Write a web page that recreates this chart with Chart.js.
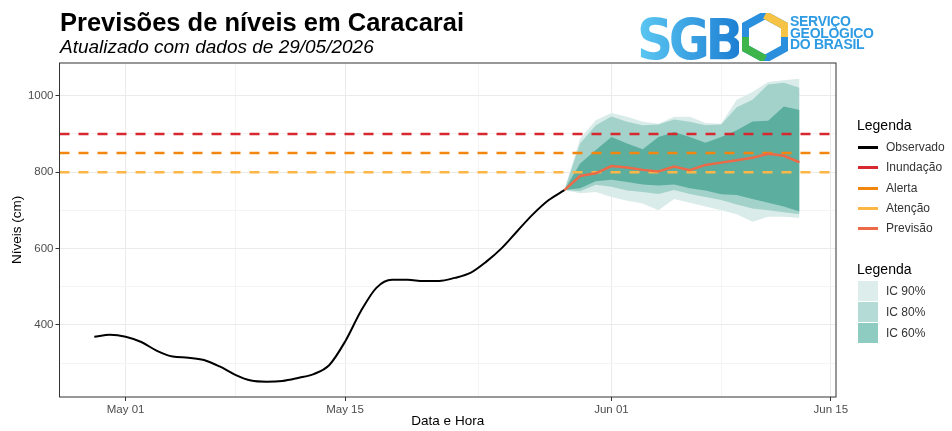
<!DOCTYPE html>
<html>
<head>
<meta charset="utf-8">
<script src="https://cdn.jsdelivr.net/npm/chart.js@4"></script>
<style>
  body { margin: 0; background: #fff; font-family: "Liberation Sans", Arial, sans-serif; }
  #wrap { position: relative; width: 952px; height: 431px; }
  #c { position: absolute; left: 0; top: 0; }
  .title { position: absolute; left: 60px; top: 8px; font-size: 25.5px; font-weight: bold; color: #000; }
  .sub { position: absolute; left: 60px; top: 36px; font-size: 19px; font-style: italic; color: #000; }
  .leg { position: absolute; left: 857px; font-size: 12px; color: #333; }
  .legtitle { position: absolute; left: 857px; font-size: 14px; color: #000; }
  .ln { position: absolute; left: 858px; width: 20px; height: 3px; }
  .sw { position: absolute; left: 858px; width: 20px; height: 20px; }
  .logo { position: absolute; left: 637px; top: 12px; font-family: "DejaVu Sans", sans-serif; font-weight: bold;
          font-size: 57px; line-height: 57px; letter-spacing: -5px; transform: scaleX(0.88); transform-origin: 0 0;
          background: linear-gradient(90deg, #5cc8f2, #1d7fd3); -webkit-background-clip: text; background-clip: text; color: transparent; }
  .logotxt { position: absolute; left: 790px; top: 16px; font-size: 14px; line-height: 11.7px; font-weight: bold; color: #2e9be3; letter-spacing: -0.3px; }
</style>
</head>
<body>
<div id="wrap">
  <canvas id="c" width="952" height="431"></canvas>
  <div class="title">Previsões de níveis em Caracarai</div>
  <div class="sub">Atualizado com dados de 29/05/2026</div>
  <div class="logo">SGB</div>
  <svg style="position:absolute;left:742px;top:13px" width="46" height="48" viewBox="0 0 46 48">
    <polygon points="23,2 43,13 43,35 23,46 3,35 3,13" fill="none" stroke="#2a8fdc" stroke-width="8"/>
    <polyline points="23,2 43,13 43,24" fill="none" stroke="#f6c344" stroke-width="8"/>
    <polyline points="3,24 3,35 23,46" fill="none" stroke="#3db54b" stroke-width="8"/>
  </svg>
  <div class="logotxt">SERVIÇO<br>GEOLÓGICO<br>DO BRASIL</div>
  <div id="legend"></div>
</div>
<script>
// observed levels (cm)
const obsDates = ['04-29','04-30','05-01','05-02','05-03','05-04','05-05','05-06','05-07','05-08',
  '05-09','05-10','05-11','05-12','05-13','05-14','05-15','05-16','05-17','05-18','05-19','05-20',
  '05-21','05-22','05-23','05-24','05-25','05-26','05-27','05-28','05-29'];
const observado = [369, 374, 369, 355, 332, 317, 314, 308, 291, 269, 254, 251, 253, 261, 271, 295,
  356, 435, 497, 518, 518, 515, 515, 523, 536, 565, 601, 646, 690, 727, 753];

// forecast and confidence intervals
const prevDates = ['05-29','05-30','05-31','06-01','06-02','06-03','06-04','06-05','06-06','06-07',
  '06-08','06-09','06-10','06-11','06-12','06-13'];
const previsao = [753, 790, 797, 816, 812, 806, 802, 815, 805, 819, 825, 831, 838, 848, 843, 826];
const ic90Hi = [753, 888, 936, 955, 945, 932, 927, 945, 945, 929, 927, 990, 1010, 1036, 1041, 1045];
const ic80Hi = [753, 875, 923, 946, 932, 923, 925, 938, 932, 923, 925, 970, 990, 1030, 1034, 1021];
const ic60Hi = [753, 823, 858, 892, 875, 860, 892, 905, 892, 877, 892, 910, 933, 935, 972, 963];
const ic60Lo = [753, 758, 776, 780, 774, 768, 765, 768, 758, 752, 742, 740, 730, 720, 710, 697];
const ic80Lo = [753, 750, 767, 762, 752, 748, 743, 753, 743, 735, 727, 715, 705, 700, 695, 690];
const ic90Lo = [753, 745, 748, 735, 725, 718, 700, 730, 720, 710, 700, 690, 670, 683, 683, 680];

// thresholds
const limiares = ['Inundação', 'Alerta', 'Atenção'];
const limiarValores = [900, 850, 800];
const limiarCores = ['#d7282f', '#f2860f', '#fbb646'];

// axes
const xTickDates = ['05-01', '05-15', '06-01', '06-15'];
const xTickLabels = ['May 01', 'May 15', 'Jun 01', 'Jun 15'];
const yTicks = [400, 600, 800, 1000];
const yMinor = [300, 500, 700, 900];

// days since May 01 2026
function dia(md) {
  const [m, d] = md.split('-').map(Number);
  return (Date.UTC(2026, m - 1, d) - Date.UTC(2026, 4, 1)) / 864e5;
}
const xMin = -4.22, xMax = 45.33;
const xMajor = xTickDates.map(dia);
const xMinorPos = [];
for (let i = 0; i < xMajor.length - 1; i++) xMinorPos.push((xMajor[i] + xMajor[i + 1]) / 2);

const pts = (dates, vals) => dates.map((d, i) => ({x: dia(d), y: vals[i]}));

const datasets = [
  {label: 'Observado', data: pts(obsDates, observado), borderColor: '#000', borderWidth: 2,
   pointRadius: 0, cubicInterpolationMode: 'monotone', order: 0},
  {label: 'Previsão', data: pts(prevDates, previsao), borderColor: '#ec6a48', borderWidth: 2.5,
   pointRadius: 0, order: 1}
];
limiares.forEach((l, i) => datasets.push({
  label: l, data: [{x: xMin, y: limiarValores[i]}, {x: xMax, y: limiarValores[i]}],
  borderColor: limiarCores[i], borderWidth: 2.5, borderDash: [10, 9], pointRadius: 0, order: 2
}));
const bands = [[ic60Lo, ic60Hi, '#5cae9f', 3], [ic80Lo, ic80Hi, '#a3d2cb', 4], [ic90Lo, ic90Hi, '#d9ece9', 5]];
bands.forEach(([lo, hi, col, ord]) => {
  datasets.push({data: pts(prevDates, lo), borderWidth: 0, pointRadius: 0, fill: false, order: ord});
  datasets.push({data: pts(prevDates, hi), borderWidth: 0, pointRadius: 0, fill: '-1',
    backgroundColor: col, order: ord});
});

const frame = {
  id: 'frame',
  afterDraw(chart) {
    const a = chart.chartArea, ctx = chart.ctx;
    ctx.save();
    ctx.strokeStyle = '#333';
    ctx.lineWidth = 1;
    ctx.strokeRect(a.left, a.top, a.right - a.left, a.bottom - a.top);
    ctx.restore();
  }
};

const tickFont = {family: '"Liberation Sans", Arial', size: 11.5};

new Chart(document.getElementById('c'), {
  type: 'line',
  data: {datasets},
  plugins: [frame],
  options: {
    responsive: false,
    animation: false,
    devicePixelRatio: 1,
    layout: {padding: {left: 0, top: 63, right: 116, bottom: 0}},
    plugins: {legend: {display: false}, tooltip: {enabled: false}},
    scales: {
      x: {
        type: 'linear', min: xMin, max: xMax,
        afterFit: s => { s.height = 34; },
        afterBuildTicks: s => { s.ticks = xMajor.concat(xMinorPos).sort((a, b) => a - b).map(v => ({value: v})); },
        ticks: {
          autoSkip: false, maxRotation: 0, padding: 2, color: '#4d4d4d', font: tickFont,
          callback: v => { const i = xMajor.indexOf(v); return i >= 0 ? xTickLabels[i] : ''; }
        },
        grid: {
          color: c => xMajor.includes(c.tick.value) ? '#ebebeb' : '#f4f4f4',
          tickColor: c => xMajor.includes(c.tick.value) ? '#333' : 'rgba(0,0,0,0)',
          tickLength: 4
        },
        border: {display: false},
        title: {display: true, text: 'Data e Hora', color: '#000', padding: {top: 0, bottom: 2},
          font: {family: '"Liberation Sans", Arial', size: 13.5}}
      },
      y: {
        min: 211, max: 1086,
        afterFit: s => { s.width = 59.5; },
        afterBuildTicks: s => { s.ticks = yTicks.concat(yMinor).sort((a, b) => a - b).map(v => ({value: v})); },
        ticks: {
          padding: 2, color: '#4d4d4d', font: tickFont,
          callback: v => yTicks.includes(v) ? String(v) : ''
        },
        grid: {
          color: c => yTicks.includes(c.tick.value) ? '#ebebeb' : '#f4f4f4',
          tickColor: c => yTicks.includes(c.tick.value) ? '#333' : 'rgba(0,0,0,0)',
          tickLength: 4
        },
        border: {display: false},
        title: {display: true, text: 'Níveis (cm)', color: '#000', padding: {top: 9, bottom: 0},
          font: {family: '"Liberation Sans", Arial', size: 13.5}}
      }
    }
  }
});

// legends
const legend = document.getElementById('legend');
let html = '<div class="legtitle" style="top:117px">Legenda</div>';
const lineItems = [['Observado', '#000'], ...limiares.map((l, i) => [l, limiarCores[i]]), ['Previsão', '#ec6a48']];
lineItems.forEach(([t, c], i) => {
  const y = 147 + i * 20.3;
  html += `<div class="ln" style="top:${y - 1}px;background:${c}"></div>`;
  html += `<div class="leg" style="left:886px;top:${y - 7}px">${t}</div>`;
});
html += '<div class="legtitle" style="top:261px">Legenda</div>';
[['IC 90%', '#dcedeb'], ['IC 80%', '#b5dbd6'], ['IC 60%', '#8ecbc0']].forEach(([t, c], i) => {
  const y = 281 + i * 21;
  html += `<div class="sw" style="top:${y}px;background:${c}"></div>`;
  html += `<div class="leg" style="left:886px;top:${y + 3}px">${t}</div>`;
});
legend.innerHTML = html;
</script>
</body>
</html>
